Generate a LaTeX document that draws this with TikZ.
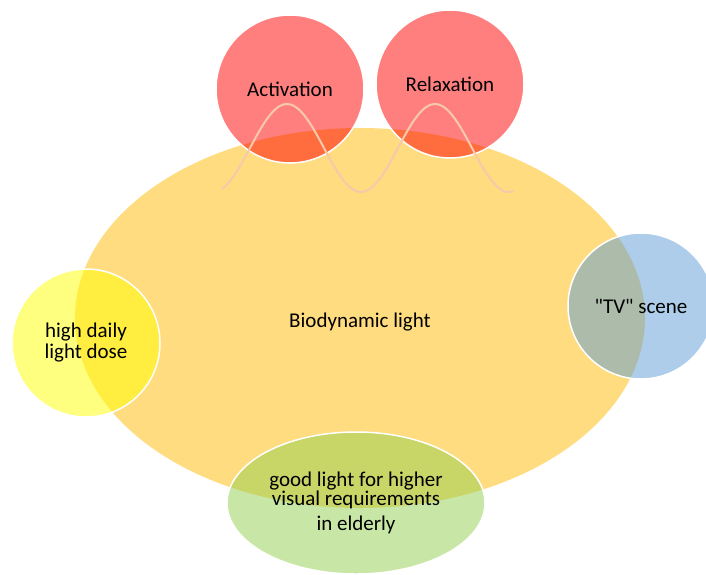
\documentclass[tikz,border=0pt]{standalone}
\usepackage{fontspec}
\setmainfont{Carlito}[Ligatures=TeXOff]
\usetikzlibrary{shapes.geometric}
\definecolor{goldc}{HTML}{FFDC80}
\definecolor{redc}{HTML}{FF0000}
\definecolor{yelc}{HTML}{FFFF00}
\definecolor{bluec}{HTML}{5B9BD5}
\definecolor{greenc}{HTML}{92D050}
\definecolor{wavec}{HTML}{F5C9AA}
\begin{document}
\begin{tikzpicture}[x=1pt,y=-1pt,
  lbl/.style={font=\fontsize{21}{21}\selectfont, text=black, align=center},
  bubble/.style={circle, minimum size=148pt, inner sep=0pt, draw=white,
    line width=1.5pt, fill opacity=0.5, text opacity=1, lbl},
  wave/.style={draw=wavec, line width=2pt, line cap=round}
]
\useasboundingbox (0,0) rectangle (706,574);
\node[ellipse, fill=goldc, minimum width=570pt, minimum height=380pt,
  inner sep=0pt, lbl, text height=22pt] (bio) at (360,318) {Biodynamic light};
\node[bubble, fill=redc] (act) at (290,89) {Activation};
\node[bubble, fill=redc] (rel) at (450,84) {Relaxation};
\node[bubble, fill=yelc] (dose) at (86,343) {high daily\\light dose};
\node[bubble, fill=bluec, minimum size=146pt] (tv) at (641,306) {"TV" scene};
\node[ellipse, fill=greenc, fill opacity=0.5, text opacity=1, draw=white,
  line width=1.5pt, minimum width=258pt, minimum height=142pt, inner sep=0pt, lbl,
  font=\fontsize{21}{19}\selectfont]
  (elder) at (356,503) {good light for higher\\visual requirements\\[6pt]in elderly};
\draw[wave] plot[domain=222:513, samples=120, smooth]
  (\x, {148 - 44*cos((\x-287)*2.43243)});
\end{tikzpicture}
\end{document}
